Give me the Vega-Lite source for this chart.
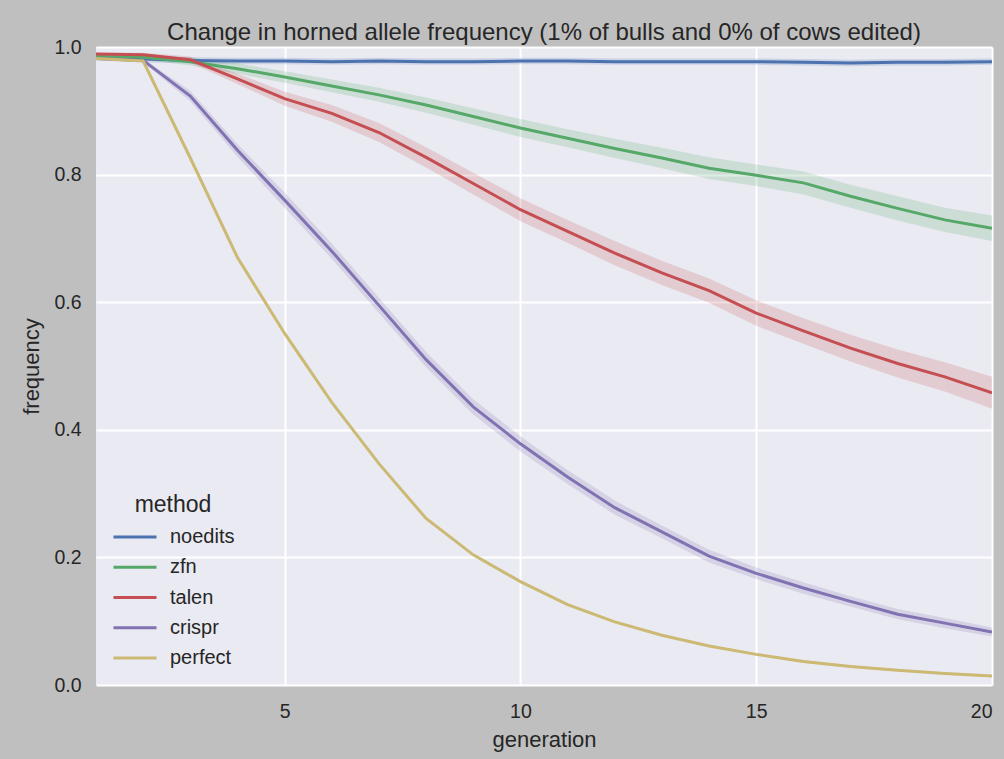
{
  "$schema": "https://vega.github.io/schema/vega-lite/v6.json",
  "width": 896,
  "height": 638,
  "autosize": {"type": "none"},
  "padding": {"left": 96, "top": 47, "right": 12, "bottom": 74},
  "background": "#bfbfbf",
  "title": {
    "text": "Change in horned allele frequency (1% of bulls and 0% of cows edited)",
    "fontSize": 24,
    "fontWeight": "normal",
    "color": "#262626",
    "anchor": "middle",
    "frame": "group",
    "baseline": "alphabetic",
    "offset": 6,
    "dy": 33
  },
  "config": {
    "font": "Liberation Sans",
    "view": {"fill": "#eaeaf2", "stroke": null},
    "axis": {
      "domain": false,
      "ticks": false,
      "grid": true,
      "gridColor": "#ffffff",
      "gridWidth": 2,
      "gridOpacity": 1,
      "labelColor": "#262626",
      "titleColor": "#262626",
      "labelFontSize": 19.5,
      "titleFontSize": 22,
      "titleFontWeight": "normal",
      "labelFont": "Liberation Sans",
      "titleFont": "Liberation Sans"
    },
    "legend": {
      "labelFont": "Liberation Sans",
      "titleFont": "Liberation Sans"
    }
  },
  "data": {
    "values": [
      {"method": "noedits", "generation": 1, "frequency": 0.983, "lo": 0.979, "hi": 0.987},
      {"method": "noedits", "generation": 2, "frequency": 0.981, "lo": 0.976, "hi": 0.986},
      {"method": "noedits", "generation": 3, "frequency": 0.979, "lo": 0.974, "hi": 0.984},
      {"method": "noedits", "generation": 4, "frequency": 0.978, "lo": 0.973, "hi": 0.983},
      {"method": "noedits", "generation": 5, "frequency": 0.978, "lo": 0.973, "hi": 0.983},
      {"method": "noedits", "generation": 6, "frequency": 0.977, "lo": 0.972, "hi": 0.982},
      {"method": "noedits", "generation": 7, "frequency": 0.978, "lo": 0.973, "hi": 0.983},
      {"method": "noedits", "generation": 8, "frequency": 0.977, "lo": 0.972, "hi": 0.982},
      {"method": "noedits", "generation": 9, "frequency": 0.977, "lo": 0.972, "hi": 0.982},
      {"method": "noedits", "generation": 10, "frequency": 0.978, "lo": 0.973, "hi": 0.983},
      {"method": "noedits", "generation": 11, "frequency": 0.978, "lo": 0.973, "hi": 0.983},
      {"method": "noedits", "generation": 12, "frequency": 0.977, "lo": 0.972, "hi": 0.982},
      {"method": "noedits", "generation": 13, "frequency": 0.977, "lo": 0.972, "hi": 0.982},
      {"method": "noedits", "generation": 14, "frequency": 0.977, "lo": 0.972, "hi": 0.982},
      {"method": "noedits", "generation": 15, "frequency": 0.977, "lo": 0.972, "hi": 0.982},
      {"method": "noedits", "generation": 16, "frequency": 0.976, "lo": 0.971, "hi": 0.981},
      {"method": "noedits", "generation": 17, "frequency": 0.975, "lo": 0.970, "hi": 0.980},
      {"method": "noedits", "generation": 18, "frequency": 0.976, "lo": 0.971, "hi": 0.981},
      {"method": "noedits", "generation": 19, "frequency": 0.976, "lo": 0.971, "hi": 0.981},
      {"method": "noedits", "generation": 20, "frequency": 0.977, "lo": 0.972, "hi": 0.982},
      {"method": "zfn", "generation": 1, "frequency": 0.985, "lo": 0.982, "hi": 0.988},
      {"method": "zfn", "generation": 2, "frequency": 0.984, "lo": 0.980, "hi": 0.988},
      {"method": "zfn", "generation": 3, "frequency": 0.977, "lo": 0.971, "hi": 0.983},
      {"method": "zfn", "generation": 4, "frequency": 0.966, "lo": 0.958, "hi": 0.974},
      {"method": "zfn", "generation": 5, "frequency": 0.953, "lo": 0.944, "hi": 0.962},
      {"method": "zfn", "generation": 6, "frequency": 0.939, "lo": 0.929, "hi": 0.949},
      {"method": "zfn", "generation": 7, "frequency": 0.925, "lo": 0.914, "hi": 0.936},
      {"method": "zfn", "generation": 8, "frequency": 0.909, "lo": 0.897, "hi": 0.921},
      {"method": "zfn", "generation": 9, "frequency": 0.891, "lo": 0.878, "hi": 0.904},
      {"method": "zfn", "generation": 10, "frequency": 0.873, "lo": 0.859, "hi": 0.887},
      {"method": "zfn", "generation": 11, "frequency": 0.857, "lo": 0.843, "hi": 0.871},
      {"method": "zfn", "generation": 12, "frequency": 0.841, "lo": 0.826, "hi": 0.856},
      {"method": "zfn", "generation": 13, "frequency": 0.826, "lo": 0.810, "hi": 0.842},
      {"method": "zfn", "generation": 14, "frequency": 0.810, "lo": 0.793, "hi": 0.827},
      {"method": "zfn", "generation": 15, "frequency": 0.799, "lo": 0.782, "hi": 0.816},
      {"method": "zfn", "generation": 16, "frequency": 0.787, "lo": 0.769, "hi": 0.805},
      {"method": "zfn", "generation": 17, "frequency": 0.766, "lo": 0.748, "hi": 0.784},
      {"method": "zfn", "generation": 18, "frequency": 0.747, "lo": 0.728, "hi": 0.766},
      {"method": "zfn", "generation": 19, "frequency": 0.729, "lo": 0.710, "hi": 0.748},
      {"method": "zfn", "generation": 20, "frequency": 0.716, "lo": 0.696, "hi": 0.736},
      {"method": "talen", "generation": 1, "frequency": 0.989, "lo": 0.987, "hi": 0.991},
      {"method": "talen", "generation": 2, "frequency": 0.988, "lo": 0.985, "hi": 0.991},
      {"method": "talen", "generation": 3, "frequency": 0.980, "lo": 0.975, "hi": 0.985},
      {"method": "talen", "generation": 4, "frequency": 0.950, "lo": 0.942, "hi": 0.958},
      {"method": "talen", "generation": 5, "frequency": 0.919, "lo": 0.908, "hi": 0.930},
      {"method": "talen", "generation": 6, "frequency": 0.896, "lo": 0.883, "hi": 0.909},
      {"method": "talen", "generation": 7, "frequency": 0.866, "lo": 0.851, "hi": 0.881},
      {"method": "talen", "generation": 8, "frequency": 0.827, "lo": 0.811, "hi": 0.843},
      {"method": "talen", "generation": 9, "frequency": 0.786, "lo": 0.769, "hi": 0.803},
      {"method": "talen", "generation": 10, "frequency": 0.745, "lo": 0.727, "hi": 0.763},
      {"method": "talen", "generation": 11, "frequency": 0.711, "lo": 0.693, "hi": 0.729},
      {"method": "talen", "generation": 12, "frequency": 0.677, "lo": 0.658, "hi": 0.696},
      {"method": "talen", "generation": 13, "frequency": 0.646, "lo": 0.627, "hi": 0.665},
      {"method": "talen", "generation": 14, "frequency": 0.618, "lo": 0.599, "hi": 0.637},
      {"method": "talen", "generation": 15, "frequency": 0.583, "lo": 0.563, "hi": 0.603},
      {"method": "talen", "generation": 16, "frequency": 0.555, "lo": 0.535, "hi": 0.575},
      {"method": "talen", "generation": 17, "frequency": 0.528, "lo": 0.507, "hi": 0.549},
      {"method": "talen", "generation": 18, "frequency": 0.504, "lo": 0.482, "hi": 0.526},
      {"method": "talen", "generation": 19, "frequency": 0.483, "lo": 0.460, "hi": 0.506},
      {"method": "talen", "generation": 20, "frequency": 0.458, "lo": 0.433, "hi": 0.483},
      {"method": "crispr", "generation": 1, "frequency": 0.982, "lo": 0.980, "hi": 0.984},
      {"method": "crispr", "generation": 2, "frequency": 0.979, "lo": 0.976, "hi": 0.982},
      {"method": "crispr", "generation": 3, "frequency": 0.923, "lo": 0.915, "hi": 0.931},
      {"method": "crispr", "generation": 4, "frequency": 0.838, "lo": 0.828, "hi": 0.848},
      {"method": "crispr", "generation": 5, "frequency": 0.760, "lo": 0.748, "hi": 0.772},
      {"method": "crispr", "generation": 6, "frequency": 0.680, "lo": 0.668, "hi": 0.692},
      {"method": "crispr", "generation": 7, "frequency": 0.595, "lo": 0.583, "hi": 0.607},
      {"method": "crispr", "generation": 8, "frequency": 0.510, "lo": 0.498, "hi": 0.522},
      {"method": "crispr", "generation": 9, "frequency": 0.436, "lo": 0.424, "hi": 0.448},
      {"method": "crispr", "generation": 10, "frequency": 0.378, "lo": 0.366, "hi": 0.390},
      {"method": "crispr", "generation": 11, "frequency": 0.326, "lo": 0.315, "hi": 0.337},
      {"method": "crispr", "generation": 12, "frequency": 0.278, "lo": 0.267, "hi": 0.289},
      {"method": "crispr", "generation": 13, "frequency": 0.240, "lo": 0.230, "hi": 0.250},
      {"method": "crispr", "generation": 14, "frequency": 0.202, "lo": 0.192, "hi": 0.212},
      {"method": "crispr", "generation": 15, "frequency": 0.175, "lo": 0.166, "hi": 0.184},
      {"method": "crispr", "generation": 16, "frequency": 0.152, "lo": 0.143, "hi": 0.161},
      {"method": "crispr", "generation": 17, "frequency": 0.131, "lo": 0.123, "hi": 0.139},
      {"method": "crispr", "generation": 18, "frequency": 0.111, "lo": 0.103, "hi": 0.119},
      {"method": "crispr", "generation": 19, "frequency": 0.097, "lo": 0.089, "hi": 0.105},
      {"method": "crispr", "generation": 20, "frequency": 0.083, "lo": 0.076, "hi": 0.090},
      {"method": "perfect", "generation": 1, "frequency": 0.982, "lo": 0.980, "hi": 0.984},
      {"method": "perfect", "generation": 2, "frequency": 0.978, "lo": 0.976, "hi": 0.980},
      {"method": "perfect", "generation": 3, "frequency": 0.826, "lo": 0.824, "hi": 0.828},
      {"method": "perfect", "generation": 4, "frequency": 0.670, "lo": 0.668, "hi": 0.672},
      {"method": "perfect", "generation": 5, "frequency": 0.551, "lo": 0.549, "hi": 0.553},
      {"method": "perfect", "generation": 6, "frequency": 0.443, "lo": 0.441, "hi": 0.445},
      {"method": "perfect", "generation": 7, "frequency": 0.347, "lo": 0.345, "hi": 0.349},
      {"method": "perfect", "generation": 8, "frequency": 0.261, "lo": 0.259, "hi": 0.263},
      {"method": "perfect", "generation": 9, "frequency": 0.204, "lo": 0.202, "hi": 0.206},
      {"method": "perfect", "generation": 10, "frequency": 0.162, "lo": 0.160, "hi": 0.164},
      {"method": "perfect", "generation": 11, "frequency": 0.126, "lo": 0.124, "hi": 0.128},
      {"method": "perfect", "generation": 12, "frequency": 0.099, "lo": 0.097, "hi": 0.101},
      {"method": "perfect", "generation": 13, "frequency": 0.078, "lo": 0.076, "hi": 0.080},
      {"method": "perfect", "generation": 14, "frequency": 0.061, "lo": 0.059, "hi": 0.063},
      {"method": "perfect", "generation": 15, "frequency": 0.048, "lo": 0.046, "hi": 0.050},
      {"method": "perfect", "generation": 16, "frequency": 0.037, "lo": 0.035, "hi": 0.039},
      {"method": "perfect", "generation": 17, "frequency": 0.029, "lo": 0.027, "hi": 0.031},
      {"method": "perfect", "generation": 18, "frequency": 0.023, "lo": 0.021, "hi": 0.025},
      {"method": "perfect", "generation": 19, "frequency": 0.018, "lo": 0.016, "hi": 0.020},
      {"method": "perfect", "generation": 20, "frequency": 0.014, "lo": 0.012, "hi": 0.016}
    ]
  },
  "encoding": {
    "x": {
      "field": "generation",
      "type": "quantitative",
      "scale": {"domain": [1, 20], "nice": false, "zero": false},
      "axis": {"values": [5, 10, 15, 20], "format": "d", "labelPadding": 17, "titlePadding": 9, "title": "generation"}
    },
    "color": {
      "field": "method",
      "type": "nominal",
      "scale": {
        "domain": ["noedits", "zfn", "talen", "crispr", "perfect"],
        "range": ["#4c72b0", "#55a868", "#c44e52", "#8172b2", "#ccb974"]
      },
      "legend": {
        "orient": "none",
        "legendX": 16,
        "legendY": 447,
        "padding": 0,
        "title": "method",
        "titleFontSize": 23,
        "titleFontWeight": "normal",
        "titleColor": "#262626",
        "titleAnchor": "middle",
        "titlePadding": 5,
        "labelFontSize": 20,
        "labelColor": "#262626",
        "labelOffset": 12,
        "symbolType": "stroke",
        "symbolSize": 1849,
        "symbolStrokeWidth": 3,
        "symbolOpacity": 1,
        "clipHeight": 30,
        "rowPadding": 0.25
      }
    }
  },
  "layer": [
    {
      "mark": {"type": "area", "opacity": 0.2, "clip": true},
      "encoding": {
        "y": {
          "field": "lo",
          "type": "quantitative",
          "scale": {"domain": [0, 1], "nice": false},
          "axis": {"values": [0, 0.2, 0.4, 0.6, 0.8, 1.0], "format": ".1f", "labelPadding": 15, "titlePadding": 10, "title": "frequency"}
        },
        "y2": {"field": "hi"}
      }
    },
    {
      "mark": {"type": "line", "strokeWidth": 3, "clip": true},
      "encoding": {
        "y": {"field": "frequency", "type": "quantitative"}
      }
    }
  ]
}
